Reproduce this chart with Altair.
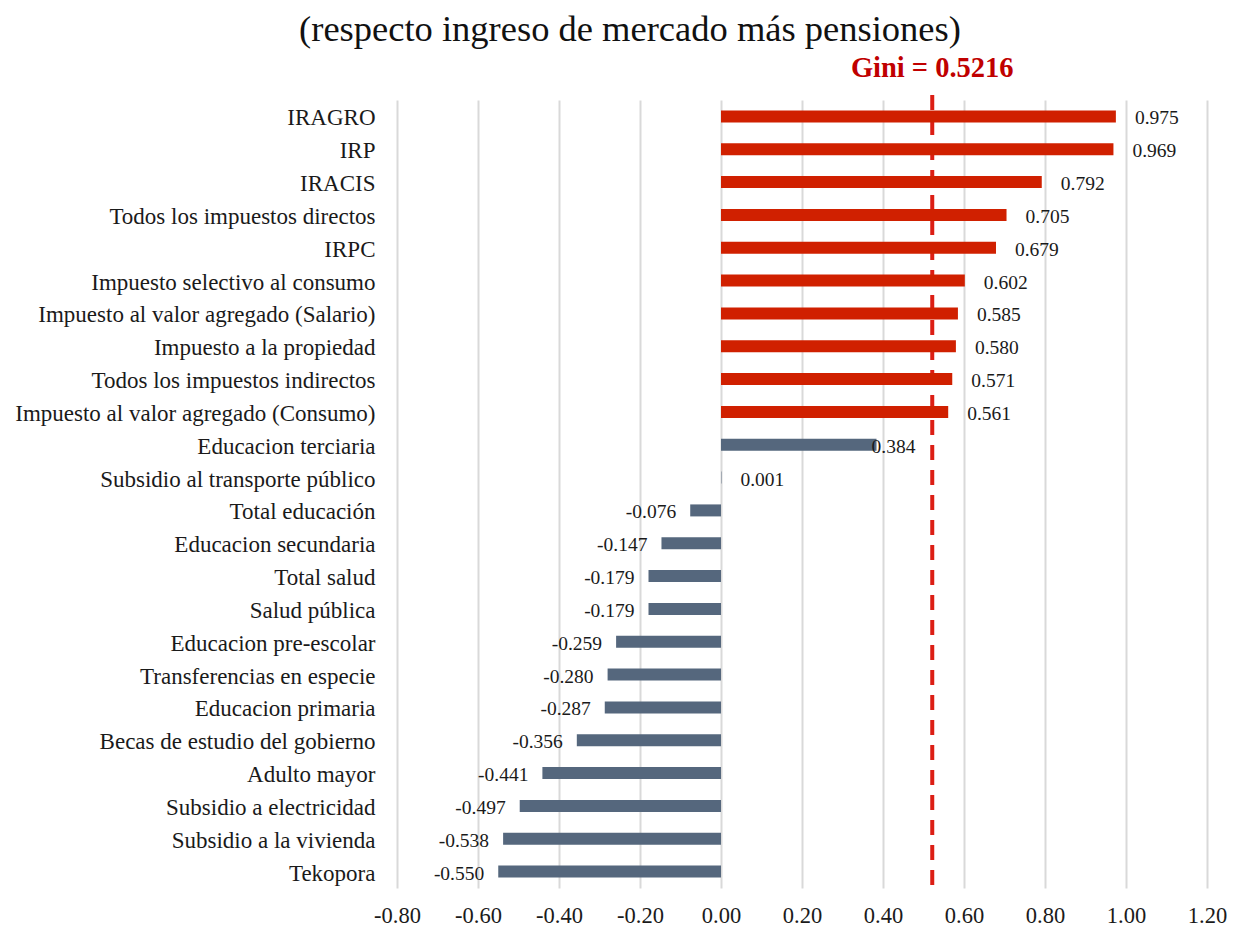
import altair as alt
import pandas as pd

categories = [
    "IRAGRO", "IRP", "IRACIS", "Todos los impuestos directos", "IRPC",
    "Impuesto selectivo al consumo", "Impuesto al valor agregado (Salario)",
    "Impuesto a la propiedad", "Todos los impuestos indirectos",
    "Impuesto al valor agregado (Consumo)", "Educacion terciaria",
    "Subsidio al transporte público", "Total educación", "Educacion secundaria",
    "Total salud", "Salud pública", "Educacion pre-escolar",
    "Transferencias en especie", "Educacion primaria",
    "Becas de estudio del gobierno", "Adulto mayor", "Subsidio a electricidad",
    "Subsidio a la vivienda", "Tekopora",
]
values = [0.975, 0.969, 0.792, 0.705, 0.679, 0.602, 0.585, 0.580, 0.571, 0.561,
          0.384, 0.001, -0.076, -0.147, -0.179, -0.179, -0.259, -0.280, -0.287,
          -0.356, -0.441, -0.497, -0.538, -0.550]
groups = ["Impuesto"] * 10 + ["Gasto"] * 14
gini = 0.5216
title_text = "(respecto ingreso de mercado más pensiones)"
x_ticks = [-0.8, -0.6, -0.4, -0.2, 0.0, 0.2, 0.4, 0.6, 0.8, 1.0, 1.2]

df = pd.DataFrame({"cat": categories, "val": values, "grp": groups})
df["lab"] = [f"{v:.3f}" for v in values]

FONT = "Liberation Serif"
W, H = 810, 788
TXT = "#1a1a1a"

x_scale = alt.Scale(domain=[-0.8, 1.2], nice=False, zero=False)
y_enc = alt.Y("cat:N", sort=categories, scale=alt.Scale(paddingInner=0, paddingOuter=0),
              axis=alt.Axis(title=None, ticks=False, domain=False, labelFont=FONT,
                            labelFontSize=23, labelColor=TXT, labelPadding=22,
                            labelLimit=400, grid=False, labelOffset=2))

base = alt.Chart(df)

bars = base.mark_bar(height=12).encode(
    x=alt.X("val:Q", scale=x_scale,
            axis=alt.Axis(values=x_ticks, title=None, domain=False, labelFlush=False,
                          labelExpr="replace(format(datum.value, '.2f'), '\u2212', '-')",
                          ticks=False, grid=True, gridColor="#d9d9d9", gridWidth=2,
                          labelFont=FONT, labelFontSize=22.5, labelColor=TXT,
                          labelPadding=16)),
    x2=alt.datum(0),
    y=y_enc,
    color=alt.Color("grp:N", scale=alt.Scale(domain=["Impuesto", "Gasto"],
                                             range=["#D02000", "#55677D"]), legend=None),
)

gdf = pd.DataFrame({"g": [gini], "t": [f"Gini = {gini}"]})
rule = alt.Chart(gdf).mark_rule(color="#DC1E14", strokeWidth=4, strokeDash=[15, 10]).encode(
    x=alt.X("g:Q", scale=x_scale), y=alt.value(-5), y2=alt.value(H + 2))
gini_text = alt.Chart(gdf).mark_text(font=FONT, fontSize=28.5, fontWeight="bold",
                                     color="#C00000", baseline="middle").encode(
    x=alt.X("g:Q", scale=x_scale), y=alt.value(-32), text="t:N")

LFS = 19.5
pos_lab = base.transform_filter("datum.val >= 0 && datum.val != 0.384").mark_text(
    font=FONT, fontSize=LFS, color=TXT, align="left", dx=19, dy=2, baseline="middle").encode(
    x=alt.X("val:Q", scale=x_scale), y=y_enc, text="lab:N")
mid_lab = base.transform_filter("datum.val == 0.384").mark_text(
    font=FONT, fontSize=LFS, color=TXT, align="left", dx=-5, dy=2, baseline="middle").encode(
    x=alt.X("val:Q", scale=x_scale), y=y_enc, text="lab:N")
neg_lab = base.transform_filter("datum.val < 0").mark_text(
    font=FONT, fontSize=LFS, color=TXT, align="right", dx=-14, dy=2, baseline="middle").encode(
    x=alt.X("val:Q", scale=x_scale), y=y_enc, text="lab:N")

title = alt.Chart(gdf).mark_text(font=FONT, fontSize=36.5, color="#111111",
                                 baseline="middle", align="center").encode(
    x=alt.value(630 - 397), y=alt.value(30 - 100), text=alt.datum(title_text))

chart = alt.layer(rule, bars, pos_lab, mid_lab, neg_lab, gini_text, title).properties(
    width=W, height=H,
    background="white",
    autosize=alt.AutoSizeParams(type="none"),
    padding={"left": 389, "top": 92, "right": 20, "bottom": 38},
).configure_view(strokeWidth=0, stroke="transparent")

chart.save("out.html", embed_options={"renderer": "svg", "actions": False})
